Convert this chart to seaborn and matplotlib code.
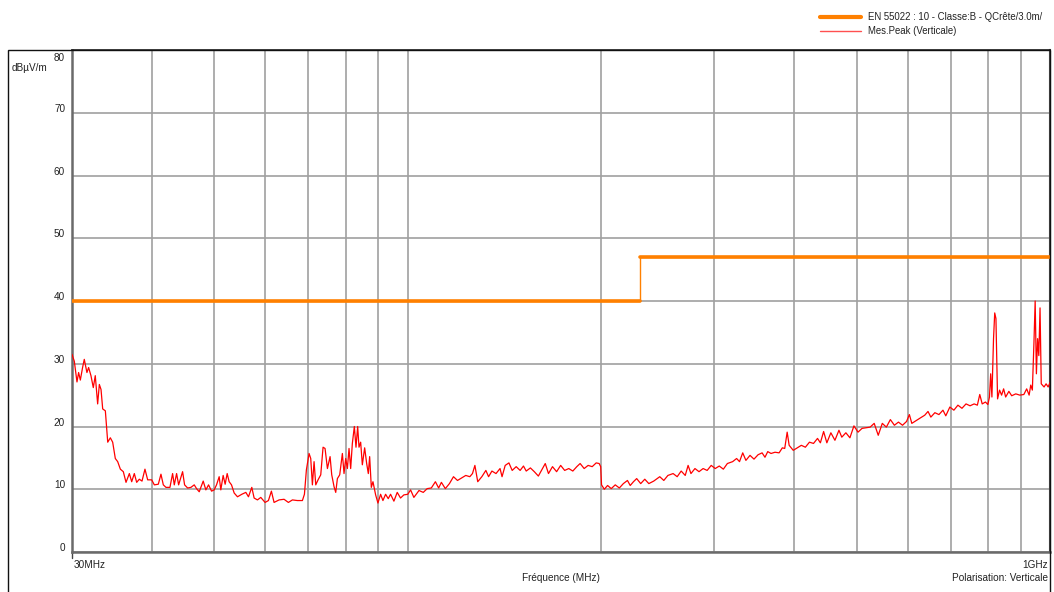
import matplotlib
matplotlib.use("Agg")
import matplotlib.pyplot as plt
import matplotlib.transforms as mtransforms
from matplotlib.patches import Rectangle
from matplotlib.lines import Line2D
from matplotlib.ticker import FixedLocator, NullLocator, NullFormatter
import seaborn as sns
import pandas as pd

# ---------------- data ----------------
limit_freq = [30, 230, 230, 1000]
limit_db = [40, 40, 47, 47]

trace_low = [
    (30.0, 31.5), (30.25, 30.4), (30.54, 27.1), (30.72, 28.6), (30.91, 27.4), (31.16, 29.4),
    (31.35, 30.7), (31.46, 29.9), (31.65, 28.6), (31.84, 29.4), (32.11, 28.1), (32.38, 26.2),
    (32.61, 28.1), (32.89, 23.6), (33.09, 26.7), (33.29, 25.9), (33.49, 22.8), (33.81, 22.5),
    (34.10, 17.5), (34.42, 18.2), (34.71, 17.5), (35.04, 14.9), (35.34, 14.4), (35.68, 13.2),
    (36.06, 12.8), (36.41, 11.1), (36.85, 12.5), (37.16, 11.2), (37.51, 12.5), (37.83, 11.1),
    (38.19, 11.6), (38.56, 11.3), (38.97, 13.2), (39.35, 11.5), (39.92, 11.5), (40.30, 10.7),
    (40.88, 10.8), (41.27, 12.4), (41.62, 10.7), (42.02, 10.3), (42.62, 10.3), (43.03, 12.5),
    (43.29, 10.7), (43.65, 12.5), (43.97, 10.7), (44.60, 12.8), (44.92, 10.7), (45.41, 10.2),
    (45.95, 10.3), (46.50, 10.7), (46.89, 10.1), (47.34, 9.6), (48.02, 11.3), (48.48, 9.9),
    (48.95, 10.7), (49.48, 9.7), (49.95, 9.9), (50.37, 10.7), (50.85, 12.0), (51.15, 9.9),
    (51.58, 12.2), (51.95, 10.8), (52.33, 12.5), (52.70, 11.2), (53.15, 10.7), (53.66, 9.4),
    (54.30, 8.8), (55.15, 9.2), (55.95, 9.5), (56.48, 8.8), (57.16, 10.3), (57.64, 8.6),
    (58.33, 8.3), (59.03, 8.7), (59.95, 7.9), (60.67, 8.2), (61.32, 9.7), (61.91, 7.9),
    (63.03, 8.3), (64.17, 8.4), (65.17, 7.9), (66.12, 8.3), (67.31, 8.2), (68.53, 8.2),
    (69.03, 9.2), (69.52, 13.1), (70.19, 15.7), (70.61, 14.9), (71.03, 10.7), (71.46, 14.4),
    (71.89, 10.7), (72.49, 11.5), (73.19, 12.3), (73.80, 16.7), (74.33, 16.5), (74.96, 13.3),
    (75.68, 15.2), (76.13, 12.3), (76.77, 10.4), (77.23, 9.5), (77.69, 11.7), (78.34, 12.3),
    (79.09, 15.7), (79.56, 12.5), (80.04, 14.9), (80.52, 13.3), (81.00, 16.5), (81.48, 13.3),
    (81.97, 17.3), (82.56, 20.0), (83.05, 16.7), (83.55, 20.0), (83.95, 16.7), (84.45, 17.5),
    (84.96, 13.9), (85.67, 16.6), (86.29, 14.1), (86.80, 12.5), (87.22, 15.2), (87.74, 10.3),
    (88.26, 11.2), (89.11, 9.1), (89.85, 7.8), (90.71, 9.2), (91.47, 8.2), (92.35, 9.2),
    (93.23, 8.5), (94.01, 9.2), (95.14, 8.1), (96.28, 9.5), (97.43, 8.6), (98.60, 9.1),
    (100.0, 9.2), (101.0, 9.9), (102.2, 8.7),
]

trace_mid = [
    (104.1, 9.8), (105.7, 9.5), (107.2, 10.1), (108.8, 10.2), (110.4, 11.2), (111.7, 10.2),
    (112.8, 11.1), (114.4, 10.1), (116.1, 10.9), (117.8, 12.0), (119.5, 11.4), (121.3, 11.8),
    (123.1, 12.2), (124.9, 12.0), (126.1, 12.5), (127.2, 13.8), (128.5, 11.2), (130.4, 12.0),
    (132.3, 13.0), (133.6, 12.0), (135.2, 12.9), (137.2, 12.5), (139.2, 13.3), (140.2, 12.0),
    (141.8, 13.8), (143.7, 14.2), (145.4, 13.0), (147.5, 13.6), (149.6, 13.0), (151.4, 13.7),
    (152.9, 12.9), (155.2, 13.4), (157.4, 12.8), (159.7, 12.1), (162.1, 13.3), (163.7, 14.1),
    (165.6, 12.5), (168.0, 13.6), (170.5, 12.8), (173.0, 13.8), (175.5, 13.0), (178.1, 13.3),
    (180.7, 12.9), (183.3, 13.6), (185.5, 14.1), (188.2, 13.3), (190.9, 13.8), (193.7, 13.6),
    (196.5, 14.2), (198.6, 14.1), (199.7, 13.6),
]

trace_high = [
    (200.3, 10.7), (202.3, 10.0), (204.7, 10.6), (207.4, 10.1), (210.4, 10.7), (213.5, 10.2),
    (216.6, 10.9), (219.8, 11.4), (222.0, 10.6), (224.6, 11.2), (227.2, 11.7), (230.5, 10.9),
    (233.9, 11.6), (237.3, 10.9), (241.5, 11.3), (246.8, 12.0), (250.4, 11.4), (254.1, 12.2),
    (258.9, 12.5), (262.7, 12.0), (266.5, 12.9), (270.4, 12.2), (273.2, 13.8), (276.0, 12.5),
    (280.0, 13.3), (284.1, 12.8), (288.3, 13.3), (292.5, 13.0), (296.8, 13.8), (301.1, 13.3),
    (305.5, 13.7), (310.0, 13.2), (314.5, 14.1), (320.5, 14.4), (325.1, 14.9), (328.5, 14.4),
    (332.3, 15.8), (336.1, 14.6), (341.1, 15.4), (346.0, 14.8), (351.1, 15.5), (356.2, 15.8),
    (359.9, 15.1), (363.5, 16.0), (367.8, 15.7), (373.1, 15.9), (378.6, 15.8), (383.0, 16.6),
    (386.3, 16.5), (389.7, 19.1), (392.5, 17.0), (398.3, 16.2), (404.1, 16.6), (410.0, 17.0),
    (416.0, 16.7), (422.1, 17.5), (428.3, 17.3), (434.5, 18.1), (439.0, 17.4), (444.1, 19.2),
    (449.3, 17.4), (455.8, 19.0), (462.5, 17.8), (469.2, 19.4), (474.0, 18.3), (481.0, 19.0),
    (488.0, 18.2), (495.1, 20.1), (502.4, 19.1), (509.7, 19.7), (517.2, 19.8), (524.7, 19.9),
    (532.4, 20.5), (540.2, 18.6), (548.1, 20.5), (556.1, 19.9), (564.2, 21.1), (572.4, 20.2),
    (580.8, 20.7), (589.3, 20.2), (597.9, 20.8), (604.0, 21.9), (609.3, 20.5), (620.0, 21.0),
    (629.0, 21.4), (638.2, 21.8), (645.7, 22.4), (652.3, 21.5), (661.8, 22.2), (671.5, 21.9),
    (681.3, 22.6), (688.2, 21.7), (698.3, 23.1), (708.5, 22.6), (718.8, 23.4), (729.3, 22.9),
    (740.0, 23.6), (750.8, 23.3), (761.8, 23.6), (770.7, 23.4), (777.4, 25.1), (784.2, 23.6),
    (793.4, 23.9), (800.3, 23.5), (804.9, 24.7), (808.4, 28.4), (812.0, 24.7), (816.7, 34.0),
    (820.2, 38.1), (823.8, 37.2), (828.6, 24.4), (834.6, 25.8), (840.7, 25.0), (846.8, 26.0),
    (853.0, 24.7), (862.9, 25.6), (871.7, 24.9), (884.5, 25.2), (897.4, 25.0), (910.5, 25.1),
    (919.8, 26.0), (927.9, 25.0), (933.3, 26.6), (938.7, 25.8), (944.1, 33.4), (948.2, 40.0),
    (952.4, 28.4), (956.5, 34.0), (960.7, 31.3), (964.9, 38.9), (969.1, 26.8), (979.0, 26.3),
    (986.1, 26.8), (993.3, 26.3), (1000.0, 27.0),
]

grid_freqs = [40, 50, 60, 70, 80, 90, 100, 200, 300, 400, 500, 600, 700, 800, 900]
y_ticks = [0, 10, 20, 30, 40, 50, 60, 70, 80]

limit_label = "EN 55022 : 10 - Classe:B - QCrête/3.0m/"
trace_label = "Mes.Peak (Verticale)"

# ---------------- plotting ----------------
sns.set_theme(style="white")
plt.rcParams["font.family"] = ["Liberation Sans", "DejaVu Sans"]

W, H = 1054, 592
fig = plt.figure(figsize=(W / 100, H / 100), dpi=100)
L, R, T, B = 72, 1050, 50, 552
ax = fig.add_axes([L / W, 1 - B / H, (R - L) / W, (B - T) / H])

trace = trace_low + trace_mid + trace_high
df_trace = pd.DataFrame(trace, columns=["freq", "db"])
df_limit = pd.DataFrame({"freq": limit_freq, "db": limit_db})
df_limit["seg"] = (df_limit["db"].diff().fillna(0) != 0).cumsum()

ORANGE = "#FF8000"
RED = "#FF0000"

ax.set_xscale("log")
# thin connecting step, then thick horizontal levels
sns.lineplot(data=df_limit, x="freq", y="db", ax=ax, sort=False, estimator=None,
             color=ORANGE, lw=1.0, legend=False, zorder=3)
sns.lineplot(data=df_limit, x="freq", y="db", units="seg", ax=ax, sort=False, estimator=None,
             color=ORANGE, lw=2.6, legend=False, zorder=3)
sns.lineplot(data=df_trace, x="freq", y="db", ax=ax, sort=False, estimator=None,
             color=RED, lw=0.9, legend=False, zorder=4)

ax.set_xlim(30, 1000)
ax.set_ylim(0, 80)
ax.set_xlabel("")
ax.set_ylabel("")

ax.xaxis.set_major_locator(FixedLocator(grid_freqs))
ax.xaxis.set_minor_locator(NullLocator())
ax.xaxis.set_major_formatter(NullFormatter())
ax.xaxis.set_minor_formatter(NullFormatter())
ax.set_yticks(y_ticks)
ax.set_yticklabels([])
ax.tick_params(axis="x", length=0)
ax.tick_params(axis="y", length=3, width=1, color="#555555", direction="out", pad=2)
ax.grid(True, color="#a0a0a0", lw=1.2, zorder=0)
ax.set_axisbelow(True)

for side in ["left", "bottom"]:
    ax.spines[side].set_color("#6a6a6a")
    ax.spines[side].set_linewidth(1.8)
ax.spines["top"].set_color("#222222")
ax.spines["top"].set_linewidth(1.2)
ax.spines["right"].set_color("#444444")
ax.spines["right"].set_linewidth(1.5)

fs = 7.2
# y tick labels
trans = mtransforms.blended_transform_factory(ax.transAxes, ax.transData)
for v in y_ticks:
    if v == 80:
        ax.text(-0.007, v - 0.4, str(v), transform=trans, ha="right", va="top",
                fontsize=fs, color="#222222")
    else:
        ax.text(-0.007, v + 0.15, str(v), transform=trans, ha="right", va="baseline",
                fontsize=fs, color="#222222")

# small tick at 30 MHz
ax.plot([0, 0], [0, -0.012], transform=ax.transAxes, color="#444444", lw=1, clip_on=False)

fig.text(12 / W, 1 - 68 / H, "dBµV/m", fontsize=fs, ha="left", va="center", color="#222222")
fig.text(74 / W, 1 - 565 / H, "30MHz", fontsize=fs, ha="left", va="center", color="#222222")
fig.text(1048 / W, 1 - 565 / H, "1GHz", fontsize=fs, ha="right", va="center", color="#222222")
fig.text(561 / W, 1 - 578 / H, "Fréquence (MHz)", fontsize=fs, ha="center", va="center", color="#222222")
fig.text(1048 / W, 1 - 578 / H, "Polarisation: Verticale", fontsize=fs, ha="right", va="center", color="#222222")

# outer frame
fig.patches.append(Rectangle((8 / W, -0.05), (R - 8) / W, 1 - T / H + 0.05,
                             transform=fig.transFigure, fill=False, edgecolor="#111111",
                             lw=1.0, zorder=10))

handles = [Line2D([], [], color=ORANGE, lw=3.0), Line2D([], [], color="#FF5050", lw=1.0)]
labels = [limit_label, trace_label]
leg = fig.legend(handles, labels, loc="upper left", bbox_to_anchor=(820 / W, 1 - 12 / H),
                 frameon=False, fontsize=6.9, handlelength=4.3, handletextpad=0.75,
                 labelspacing=0.42, borderpad=0, borderaxespad=0)
for t in leg.get_texts():
    t.set_color("#222222")

fig.savefig("out.png", dpi=100, facecolor="white")
